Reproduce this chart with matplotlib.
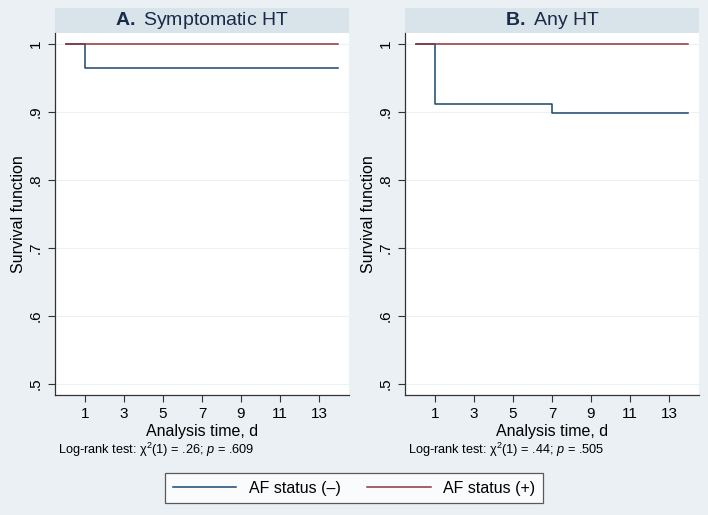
import matplotlib
matplotlib.use("Agg")
import matplotlib.pyplot as plt
from matplotlib.patches import Rectangle
from matplotlib.lines import Line2D

plt.rcParams['font.family'] = ['Liberation Sans', 'DejaVu Sans']
plt.rcParams['mathtext.fontset'] = 'custom'
plt.rcParams['mathtext.rm'] = 'Liberation Sans'
plt.rcParams['mathtext.it'] = 'Liberation Sans:italic'
plt.rcParams['mathtext.bf'] = 'Liberation Sans:bold'

# step data: times and survival values
t_neg_A = [0, 1, 14]
s_neg_A = [1.0, 0.965, 0.965]
t_neg_B = [0, 1, 7, 14]
s_neg_B = [1.0, 0.911, 0.898, 0.898]
t_pos = [0, 14]
s_pos = [1.0, 1.0]

titles_bold = ["A.", "B."]
titles = ["Symptomatic HT", "Any HT"]
logrank = [r"Log-rank test: χ$^2$(1) = .26; $\it{p}$ = .609",
           r"Log-rank test: χ$^2$(1) = .44; $\it{p}$ = .505"]
xticks = [1, 3, 5, 7, 9, 11, 13]
yticks = [0.5, 0.6, 0.7, 0.8, 0.9, 1.0]
ytick_labels = [".5", ".6", ".7", ".8", ".9", "1"]

blue = "#1a476f"
red = "#90353b"
bg = "#eaf0f3"
band = "#d9e4ea"
navy = "#1a2a4a"

W, H = 708, 515
fig = plt.figure(figsize=(W / 100, H / 100), dpi=100)
fig.patch.set_facecolor(bg)

lefts = [55, 405]
ax_w = 294
ax_top = 33
ax_bot = 395
series = [(t_neg_A, s_neg_A), (t_neg_B, s_neg_B)]

for i in range(2):
    ax = fig.add_axes([lefts[i] / W, (H - ax_bot) / H, ax_w / W, (ax_bot - ax_top) / H])
    ax.set_facecolor("white")
    ax.set_xlim(-0.54, 14.54)
    ax.set_ylim(0.484, 1.016)
    for y in yticks:
        ax.axhline(y, color="#eaf2f3", lw=0.8, zorder=0)
    tn, sn = series[i]
    ax.step(tn, sn, where="post", color=blue, lw=1.1)
    ax.step(t_pos, s_pos, where="post", color=red, lw=1.1)
    for sp in ["top", "right"]:
        ax.spines[sp].set_visible(False)
    for sp in ["left", "bottom"]:
        ax.spines[sp].set_color("#333333")
        ax.spines[sp].set_linewidth(0.9)
    ax.set_xticks(xticks)
    ax.set_yticks(yticks)
    ax.set_yticklabels(ytick_labels, rotation=90, va="center")
    ax.tick_params(axis="both", labelsize=11, length=5, width=0.8, color="#333333", pad=4)
    ax.set_xlabel("Analysis time, d", fontsize=11.5, labelpad=2)
    ax.set_ylabel("Survival function", fontsize=11.5, labelpad=2)
    # title band
    band_h = 25 / (ax_bot - ax_top)
    ax.add_patch(Rectangle((0, 1), 1, band_h, transform=ax.transAxes,
                           facecolor=band, edgecolor="none", clip_on=False))
    ax.text(0.5, 1 + band_h / 2, r"$\bf{" + titles_bold[i] + "}$ " + titles[i],
            transform=ax.transAxes, ha="center", va="center",
            fontsize=14, color=navy)
    fig.text((lefts[i] + 3) / W, 1 - 450 / H, logrank[i], fontsize=9.2,
             ha="left", va="center")

handles = [Line2D([], [], color=blue, lw=1.1), Line2D([], [], color=red, lw=1.1)]
leg = fig.legend(handles, ["AF status (–)", "AF status (+)"], ncol=2,
                 loc="center", bbox_to_anchor=(354 / W, 1 - 488 / H),
                 fontsize=11.5, frameon=True, fancybox=False, handlelength=4.0,
                 columnspacing=1.6, handletextpad=0.8, borderpad=0.45,
                 borderaxespad=0)
leg.get_frame().set_edgecolor("#333333")
leg.get_frame().set_linewidth(0.9)
leg.get_frame().set_facecolor("white")

fig.savefig("out.png", dpi=100, facecolor=bg)
